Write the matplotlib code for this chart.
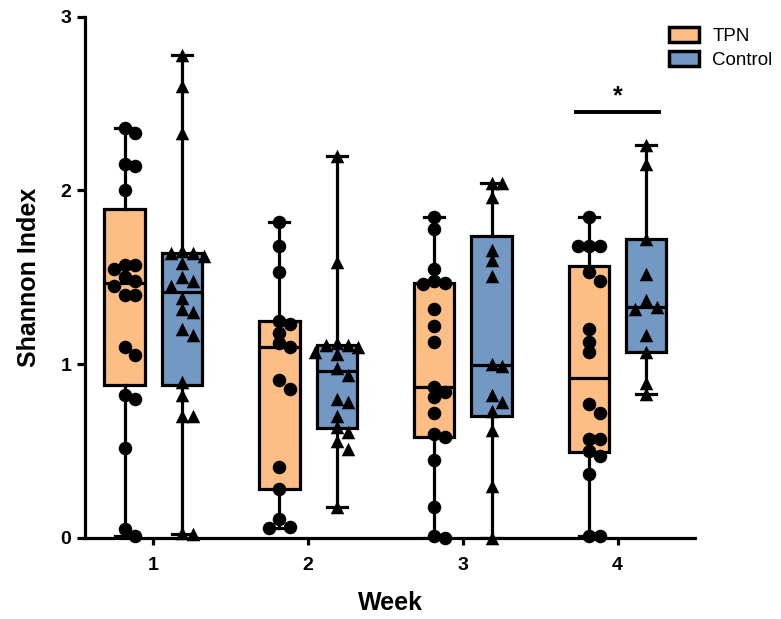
import numpy as np
import matplotlib
matplotlib.use("Agg")
import matplotlib.pyplot as plt
from matplotlib.patches import Patch

plt.rcParams['font.family'] = ['Liberation Sans', 'DejaVu Sans']

weeks = [1, 2, 3, 4]
groups = ['TPN', 'Control']
colors = ['#FDBE85', '#7398C4']
markers = ['o', '^']

# Shannon index per animal
tpn = [
    [2.36, 2.33, 2.15, 2.14, 2.00, 1.57, 1.57, 1.55, 1.50, 1.48, 1.45, 1.40, 1.40,
     1.10, 1.05, 0.82, 0.80, 0.52, 0.05, 0.01],
    [1.82, 1.68, 1.53, 1.25, 1.23, 1.18, 1.12, 1.10, 0.91, 0.86, 0.41, 0.28, 0.11,
     0.065, 0.055],
    [1.85, 1.78, 1.55, 1.48, 1.47, 1.46, 1.32, 1.22, 1.13, 0.87, 0.84, 0.81, 0.72,
     0.60, 0.58, 0.45, 0.18, 0.01, 0.0],
    [1.85, 1.68, 1.68, 1.68, 1.53, 1.48, 1.20, 1.13, 1.07, 0.77, 0.72, 0.57, 0.57,
     0.50, 0.47, 0.37, 0.01, 0.01],
]
control = [
    [2.78, 2.60, 2.33, 1.65, 1.64, 1.64, 1.62, 1.58, 1.50, 1.48, 1.45, 1.38, 1.32,
     1.30, 1.20, 1.17, 0.90, 0.82, 0.70, 0.70, 0.03, 0.02],
    [2.20, 1.59, 1.12, 1.11, 1.11, 1.10, 1.07, 1.06, 0.98, 0.94, 0.80, 0.78, 0.70,
     0.64, 0.61, 0.56, 0.51, 0.18],
    [2.04, 2.04, 1.96, 1.66, 1.60, 1.51, 1.00, 0.99, 0.82, 0.78, 0.73, 0.62, 0.30, 0.0],
    [2.26, 2.15, 1.72, 1.52, 1.37, 1.33, 1.32, 1.17, 1.07, 0.89, 0.83],
]
sig_week = 4
sig_label = '*'

fig = plt.figure(figsize=(7.81, 6.19), dpi=100)
ax = fig.add_axes([0.109, 0.131, 0.781, 0.842])
ax.set_xlim(0.56, 4.5)
ax.set_ylim(0, 3)

# pixel size of one data unit, used to spread the dots
px_x = 0.781 * 781 / (4.5 - 0.56)
px_y = 0.842 * 619 / 3.0


def swarm(vals, center, step=0.07, diam=10.0):
    placed = []
    xs = np.zeros(len(vals))
    for i in np.argsort(vals)[::-1]:
        y = vals[i]
        for k in [0, 1, -1, 2, -2, 3, -3]:
            x = center + k * step
            if all(((x - a) * px_x) ** 2 + ((y - b) * px_y) ** 2 >= diam ** 2 for a, b in placed):
                break
        placed.append((x, y))
        xs[i] = x
    return xs


offset = 0.185
lw = 2.3
for g, data in enumerate([tpn, control]):
    pos = [w + (offset if g else -offset) for w in weeks]
    stats = []
    for vals in data:
        v = np.array(vals)
        q1, med, q3 = np.percentile(v, [25, 50, 75], method='weibull')
        stats.append(dict(med=med, q1=q1, q3=q3, whislo=v.min(), whishi=v.max()))
    ax.bxp(stats, positions=pos, widths=0.26, capwidths=0.13, patch_artist=True,
           showfliers=False, manage_ticks=False,
           boxprops=dict(facecolor=colors[g], edgecolor='black', linewidth=lw),
           whiskerprops=dict(color='black', linewidth=lw),
           capprops=dict(color='black', linewidth=lw),
           medianprops=dict(color='black', linewidth=lw))
    for p, vals in zip(pos, data):
        v = np.array(vals)
        ax.scatter(swarm(v, p), v, marker=markers[g], s=95 if g == 0 else 95,
                   color='black', zorder=5, clip_on=False, linewidths=0)

# significance bar
ax.plot([sig_week - 0.28, sig_week + 0.28], [2.45, 2.45], color='black', lw=2.8,
        solid_capstyle='butt')
ax.text(sig_week, 2.47, sig_label, ha='center', va='bottom', fontsize=18, fontweight='bold')

ax.spines['top'].set_visible(False)
ax.spines['right'].set_visible(False)
ax.spines['left'].set_linewidth(lw)
ax.spines['bottom'].set_linewidth(lw)
ax.set_xticks(weeks)
ax.set_xticklabels([str(w) for w in weeks])
ax.set_yticks([0, 1, 2, 3])
ax.tick_params(axis='y', length=6, width=lw, labelsize=14, pad=4)
ax.tick_params(axis='x', length=5, width=lw, labelsize=14, pad=9)
for t in ax.get_xticklabels() + ax.get_yticklabels():
    t.set_fontweight('bold')
ax.set_xlabel('Week', fontsize=18, fontweight='bold', labelpad=12)
ax.set_ylabel('Shannon Index', fontsize=18, fontweight='bold', labelpad=14)

handles = [Patch(facecolor=c, edgecolor='black', linewidth=2.5, label=n)
           for c, n in zip(colors, groups)]
ax.legend(handles=handles, loc='upper left', bbox_to_anchor=(0.857, 0.956),
          bbox_transform=fig.transFigure, frameon=False, fontsize=13.5,
          handlelength=1.6, handleheight=0.85, handletextpad=0.7, labelspacing=0.3,
          borderaxespad=0, borderpad=0)

fig.savefig('out.png', dpi=100)
